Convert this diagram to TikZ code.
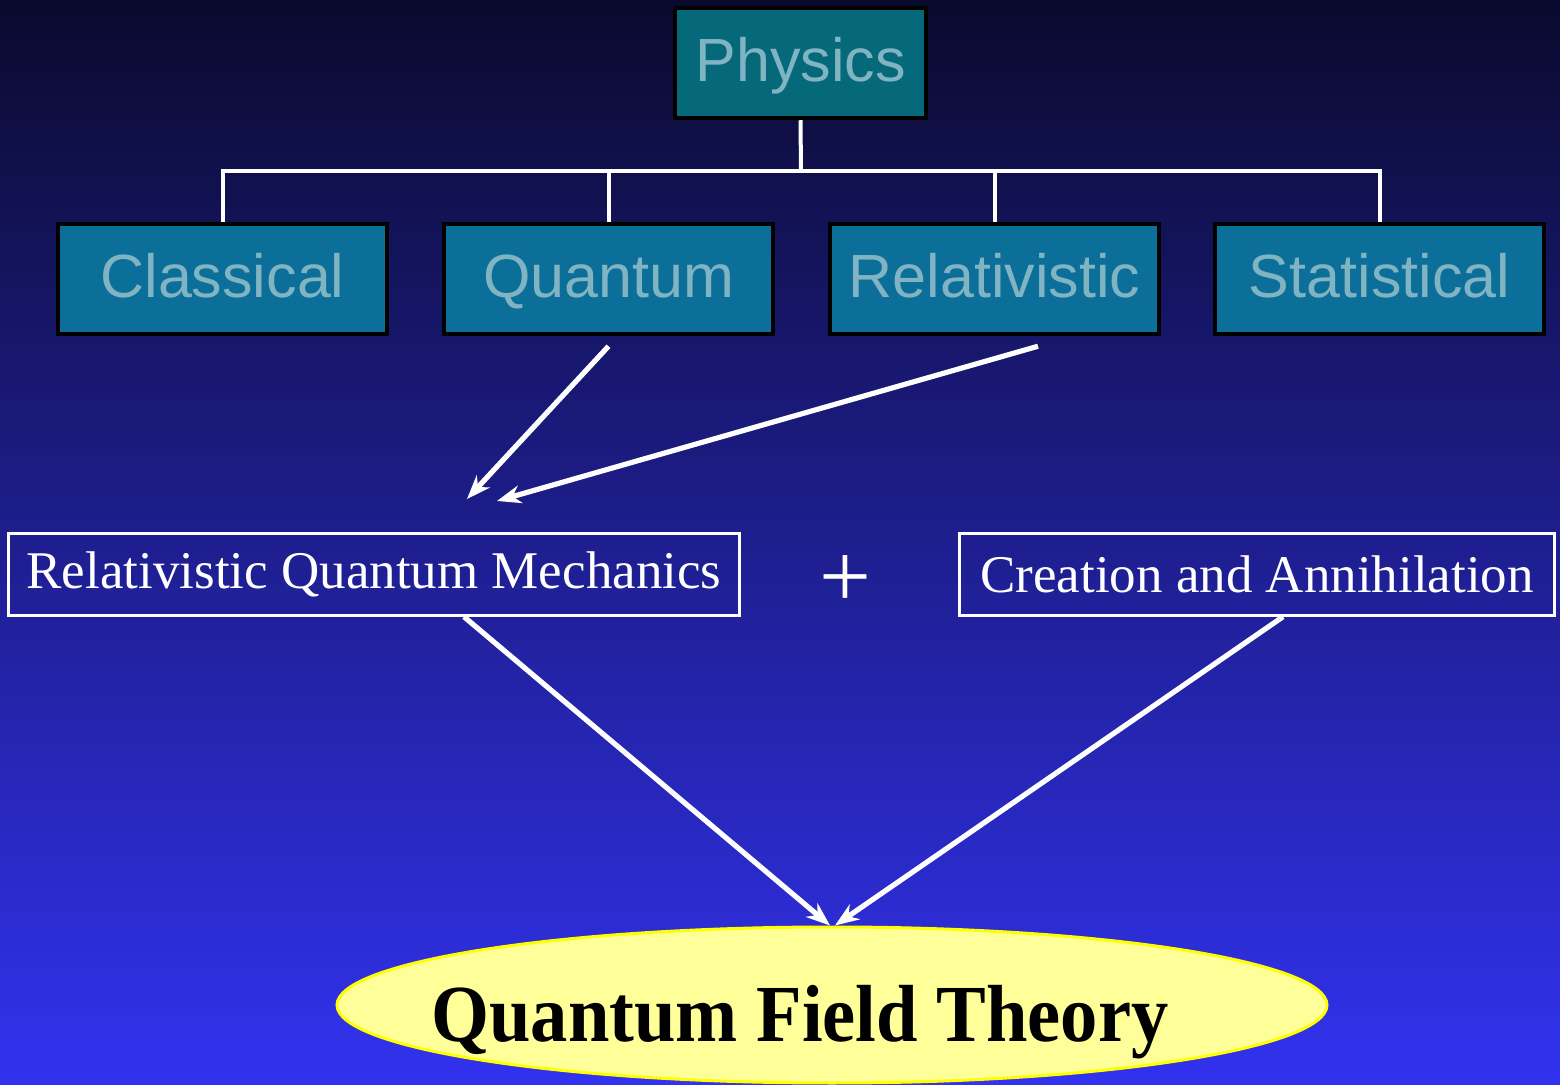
\documentclass[tikz,border=0pt]{standalone}
\usepackage{fontspec}
\setmainfont{Liberation Serif}
\newfontfamily\arialf{Liberation Sans}
\usetikzlibrary{arrows.meta,shapes.geometric}
\definecolor{bgtop}{RGB}{10,10,46}
\definecolor{bgbot}{RGB}{50,50,240}
\definecolor{physfill}{RGB}{6,105,122}
\definecolor{rowfill}{RGB}{11,111,153}
\definecolor{boxtext}{RGB}{128,180,195}
\definecolor{qftfill}{RGB}{255,255,153}
\definecolor{qftline}{RGB}{255,255,0}
\tikzset{
  topbox/.style={draw=black, line width=2.25pt, fill=physfill, text=boxtext,
    minimum width=125.5pt, minimum height=55pt, inner sep=0pt,
    text height=24pt, text depth=5pt,
    font=\arialf\fontsize{30.5}{36}\selectfont},
  rowbox/.style={topbox, fill=rowfill, minimum width=164.5pt},
  outlinebox/.style={draw=white, line width=1.25pt, text=white, inner sep=0pt,
    minimum height=41pt, font=\fontsize{26.5}{32}\selectfont},
  treeline/.style={draw=white, line width=2pt},
  arr/.style={draw=white, line width=2.6pt, -{Stealth[length=12pt,width=9pt]}},
  qftnode/.style={ellipse, draw=qftline, line width=1.5pt, fill=qftfill,
    minimum width=495pt, minimum height=78pt, inner sep=0pt}
}
\begin{document}
\begin{tikzpicture}[x=0.5pt,y=-0.5pt]
\shade[top color=bgtop,bottom color=bgbot] (0,0) rectangle (1560,1085);
\useasboundingbox (0,0) rectangle (1560,1085);

\node[topbox] (phys) at (800.5,63) {Physics};
\node[rowbox] (cls) at (222.5,279) {Classical};
\node[rowbox] (qu) at (608.5,279) {Quantum};
\node[rowbox] (rel) at (994.5,279) {Relativistic};
\node[rowbox] (sta) at (1379.5,279) {Statistical};

\coordinate (bus) at (801,171);
\draw[treeline] (phys.south) -- (bus);
\draw[treeline, line cap=rect] (bus -| cls.north) -- (bus -| sta.north);
\foreach \n in {cls,qu,rel,sta}{
  \draw[treeline] (bus -| \n.north) -- (\n.north);
}

\node[outlinebox, minimum width=365.5pt] (rqm) at (374,574.5) {Relativistic Quantum Mechanics};
\node[outlinebox, minimum width=297.5pt] (ca) at (1257,574.5) {Creation and Annihilation};
\node[text=white, font=\fontsize{46}{50}\selectfont, inner sep=0pt] (plus) at (845,582) {+};

\node[qftnode, label={[font=\bfseries\fontsize{40.5}{46}\selectfont, inner sep=0pt, text height=28pt, text depth=8pt, xshift=-16pt, yshift=-8pt]center:\scalebox{0.92}[1]{Quantum Field Theory}}] (qft) at (832,1005) {};

\coordinate (qa) at (467,499);
\coordinate (ra) at (497,501);
\draw[arr] ([yshift=-5pt]qu.south) -- (qa);
\draw[arr] ([xshift=21.75pt,yshift=-5pt]rel.south) -- (ra);
\draw[arr] ([xshift=45pt]rqm.south) -- ([xshift=-1pt]qft.north);
\draw[arr] ([xshift=13pt]ca.south) -- ([xshift=1.5pt]qft.north);
\end{tikzpicture}
\end{document}
